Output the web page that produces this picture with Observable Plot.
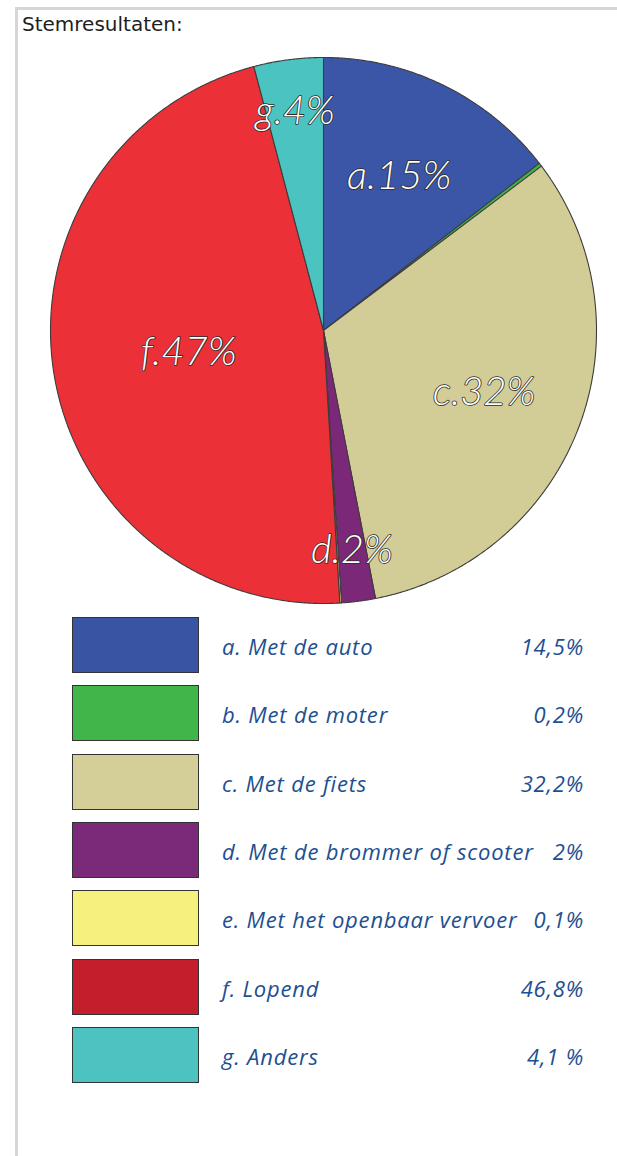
<!DOCTYPE html>
<html>
<head>
<meta charset="utf-8">
<script src="https://cdn.jsdelivr.net/npm/d3@7"></script>
<script src="https://cdn.jsdelivr.net/npm/@observablehq/plot@0.6"></script>
<style>
  html, body { margin: 0; padding: 0; background: #fff; }
  #frame {
    position: absolute; left: 15px; top: 7px; width: 602px; height: 1149px;
    border-left: 3px solid #d6d6d6; border-top: 3px solid #d6d6d6;
  }
  #title {
    position: absolute; left: 4px; top: 0px; height: 30px; line-height: 28px;
    font-family: "DejaVu Sans", Verdana, sans-serif; font-size: 20px; color: #1e1e1e;
  }
  #chart { position: absolute; left: 0px; top: 31px; }
  #legend { position: absolute; left: 0; top: 607px; }
  .row { position: absolute; left: 54px; height: 56px; display: flex; align-items: center; }
  .sw { width: 127px; height: 56px; box-sizing: border-box; border: 1px solid #333; flex: none; }
  .txt {
    margin-left: 23px; width: 362px; display: flex; justify-content: space-between;
    font-family: "Open Sans", Lato, sans-serif; font-style: italic; font-size: 22px; letter-spacing: 0.8px;
    color: #1d4f91; white-space: nowrap; padding-top: 2px;
  }
  .txt .v { margin-left: 7px; }
</style>
</head>
<body>
<div id="frame">
  <div id="title">Stemresultaten:</div>
  <div id="chart"></div>
  <div id="legend"></div>
</div>
<script>
const keys = ["a", "b", "c", "d", "e", "f", "g"];
const categories = ["a. Met de auto", "b. Met de moter", "c. Met de fiets", "d. Met de brommer of scooter", "e. Met het openbaar vervoer", "f. Lopend", "g. Anders"];
const shares = [14.5, 0.2, 32.2, 2, 0.1, 46.8, 4.1];
const valueLabels = ["14,5%", "0,2%", "32,2%", "2%", "0,1%", "46,8%", "4,1 %"];
const pieLabels = ["a.15%", "", "c.32%", "d.2%", "", "f.47%", "g.4%"];
const pieColors = ["#3b56a6", "#3fb54a", "#d2cd97", "#7b2878", "#f5ef7b", "#ec3038", "#4bc3c0"];
const legendColors = ["#3a54a4", "#40b64a", "#d4cf99", "#7a2a79", "#f6f07c", "#c41e2d", "#4cc3c1"];

// slice geometry from the data via d3.pie
const arcs = d3.pie().sort(null).value(d => d)(shares);
const pts = [];
arcs.forEach((a, i) => {
  const key = keys[i];
  pts.push({key, x: 0, y: 0});
  const n = Math.max(2, Math.ceil((a.endAngle - a.startAngle) / 0.005));
  for (let k = 0; k <= n; k++) {
    const t = a.startAngle + (a.endAngle - a.startAngle) * k / n;
    pts.push({key, x: Math.sin(t), y: Math.cos(t)});
  }
  pts.push({key, x: 0, y: 0});
});

const labels = arcs.map((a, i) => {
  const mid = (a.startAngle + a.endAngle) / 2;
  const s = shares[i] / d3.sum(shares);
  const rf = s > 0.4 ? 0.5 : s > 0.1 ? 0.63 : 0.81;
  return {text: pieLabels[i], x: rf * Math.sin(mid), y: rf * Math.cos(mid)};
}).filter(d => d.text);

const chart = Plot.plot({
  width: 600,
  height: 576,
  margin: 0,
  x: {domain: [-1, 1], range: [32, 578], axis: null},
  y: {domain: [-1, 1], range: [562, 16], axis: null},
  color: {domain: keys, range: pieColors},
  marks: [
    Plot.line(pts, {x: "x", y: "y", z: "key", fill: "key", stroke: "#3c3c3c", strokeWidth: 1.1, strokeLinejoin: "round"}),
    Plot.text(labels, {
      x: "x", y: "y", text: "text", fill: "white", stroke: "#2a2a2a", strokeWidth: 1.6,
      paintOrder: "stroke", fontSize: 40, fontStyle: "italic", fontWeight: 300,
      fontFamily: "Lato, 'Open Sans', sans-serif"
    })
  ]
});
document.getElementById("chart").appendChild(chart);

const legend = document.getElementById("legend");
categories.forEach((c, i) => {
  const row = document.createElement("div");
  row.className = "row";
  row.style.top = (i * 68.33) + "px";
  row.innerHTML = `<div class="sw" style="background:${legendColors[i]}"></div>` +
    `<div class="txt"><span>${c}</span><span class="v">${valueLabels[i]}</span></div>`;
  legend.appendChild(row);
});
</script>
</body>
</html>
